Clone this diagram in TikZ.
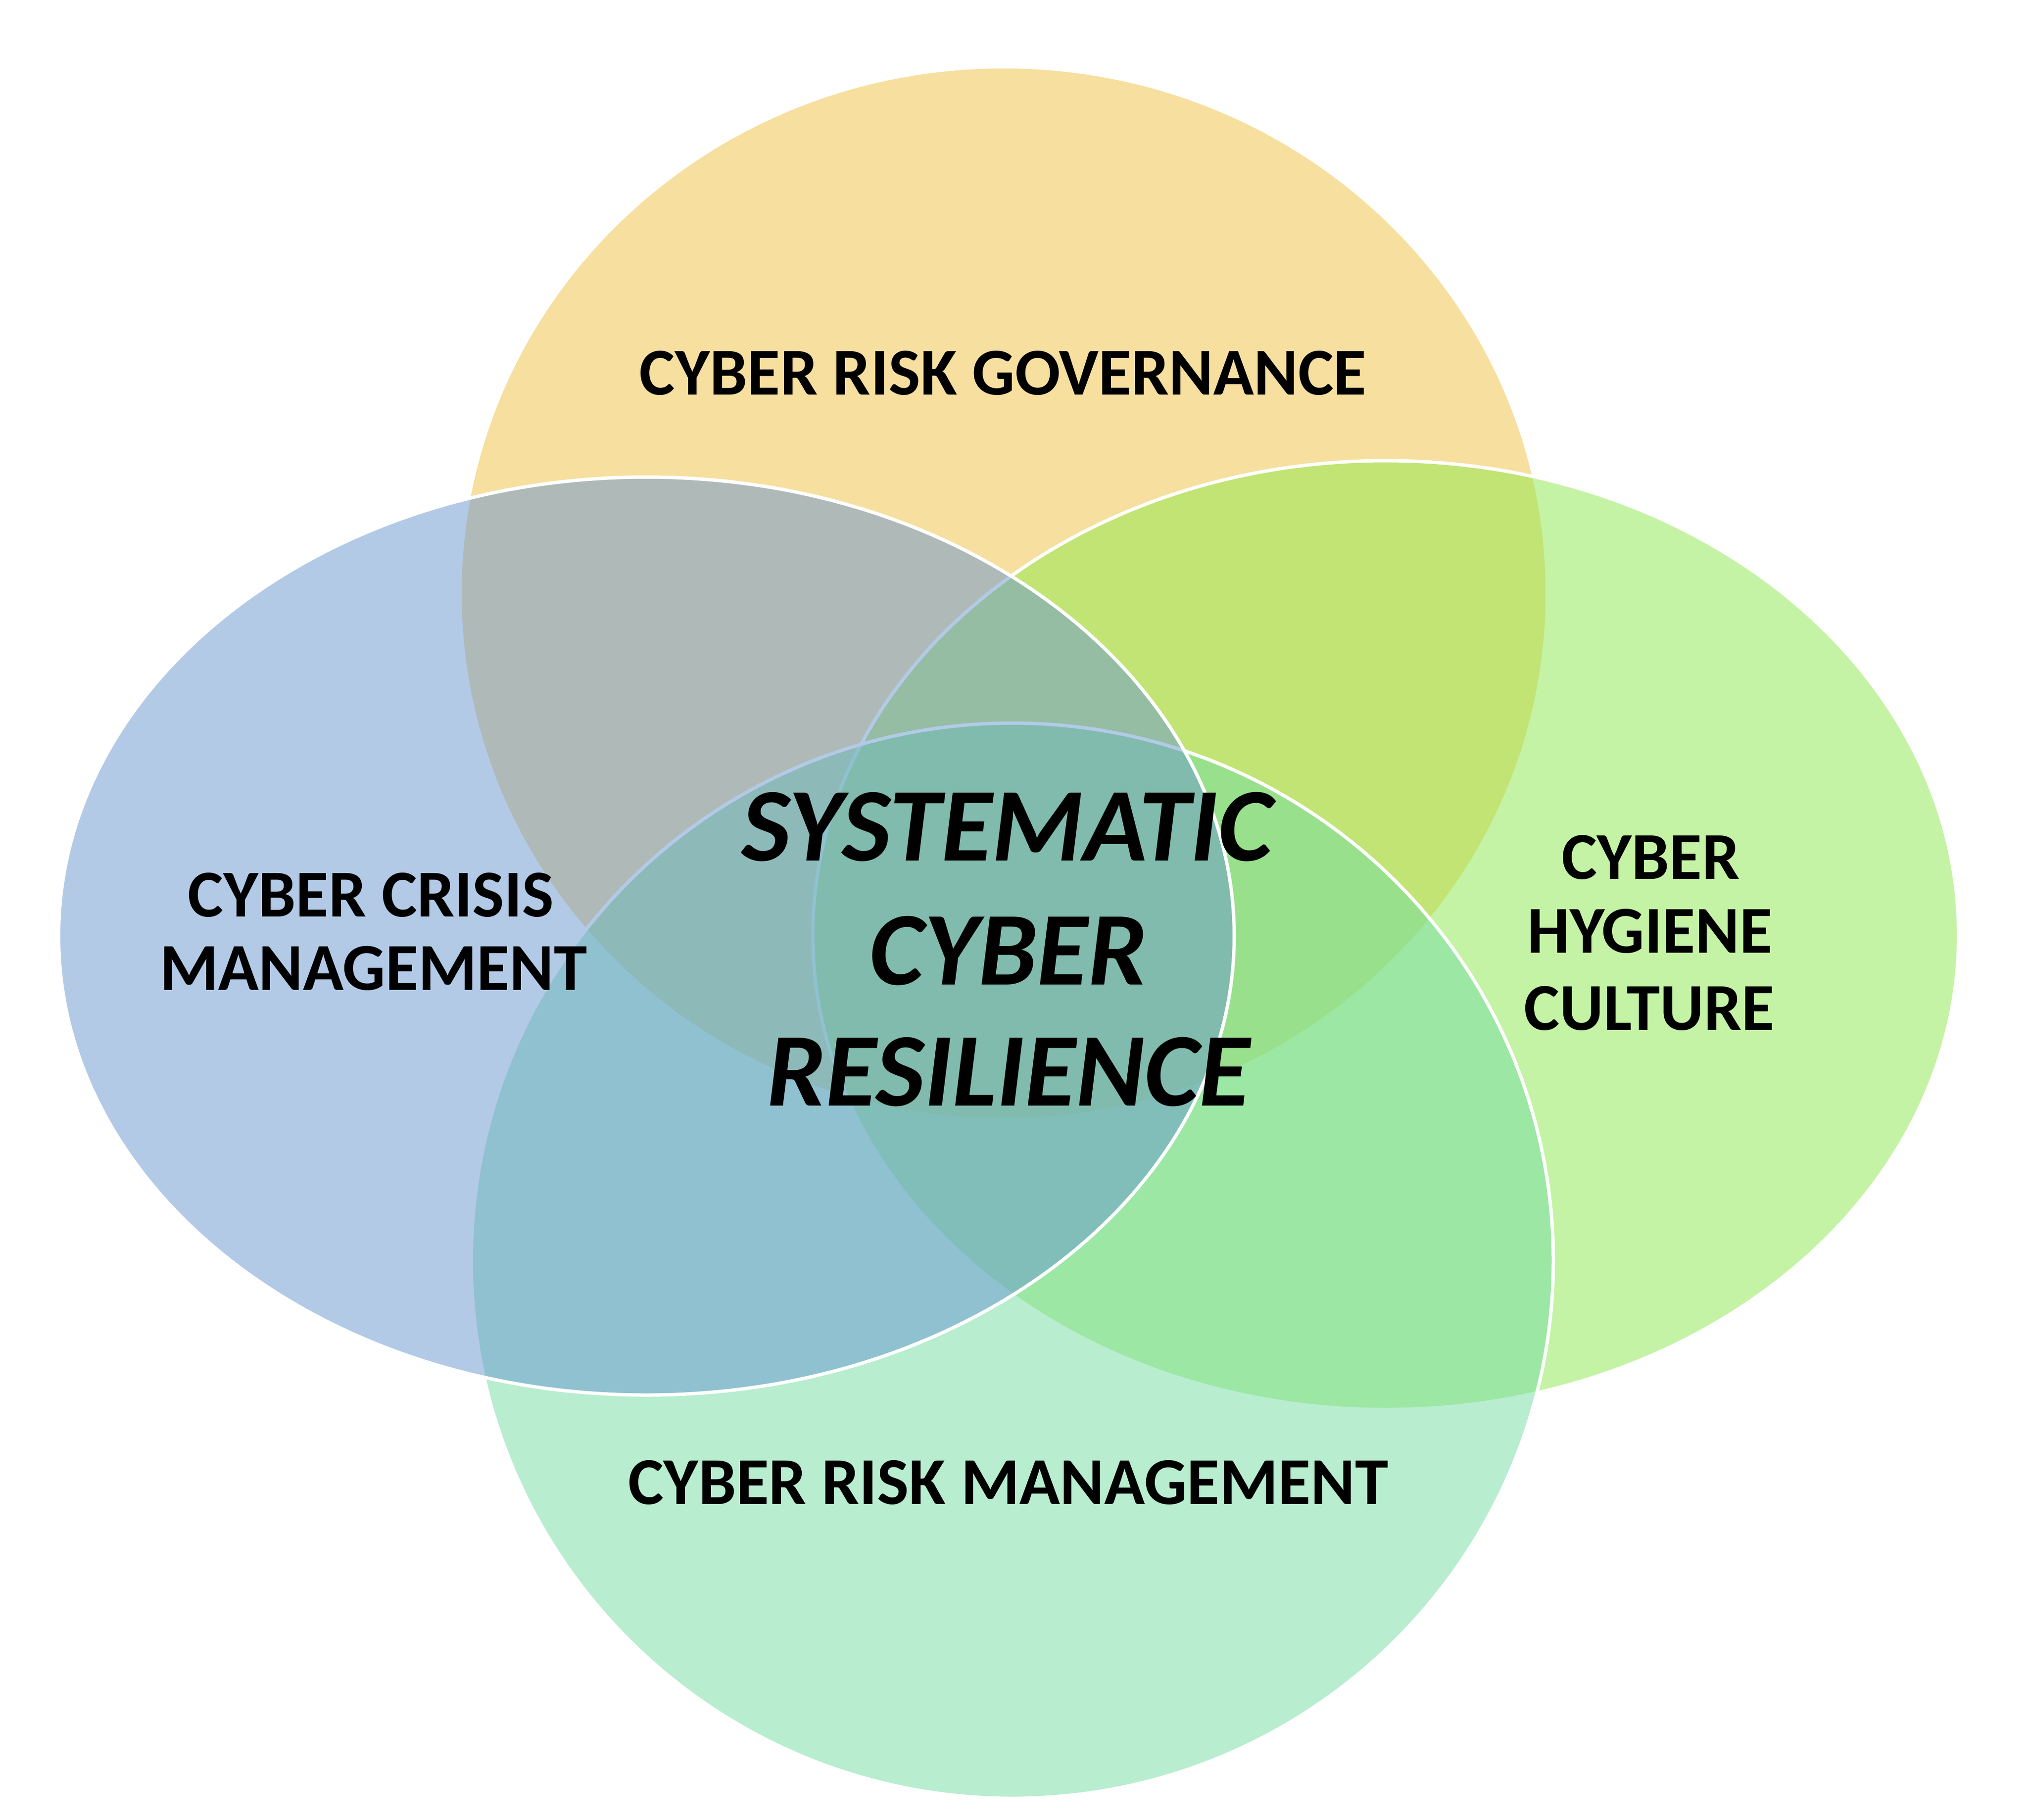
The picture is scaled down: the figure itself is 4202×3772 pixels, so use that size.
\documentclass[tikz,border=0pt]{standalone}
\usepackage{fontspec}
\setmainfont{Carlito}
\definecolor{cyel}{RGB}{241,193,65}
\definecolor{cgrn}{RGB}{141,233,77}
\definecolor{cmnt}{RGB}{115,221,163}
\definecolor{cblu}{RGB}{105,151,209}
\begin{document}
\begin{tikzpicture}[x=1pt,y=-1pt,
  blob/.style={fill opacity=0.5},
  ring/.style={draw=white, draw opacity=1, line width=7pt},
  lab/.style={anchor=base, inner sep=0pt, text=black, font=\bfseries\fontsize{139}{152}\selectfont},
  core/.style={anchor=base, inner sep=0pt, text=black, font=\bfseries\itshape\fontsize{217}{254}\selectfont}]
\useasboundingbox (0,0) rectangle (4202,3772);
\fill[white] (0,0) rectangle (4202,3772);
% ellipses
\fill[blob, fill=cyel] (2080.5,1230) ellipse [x radius=1123.5pt, y radius=1088pt];
\filldraw[blob, ring, fill=cgrn] (2872.5,1938.5) ellipse [x radius=1187.5pt, y radius=983.5pt];
\filldraw[blob, ring, fill=cmnt] (2098.5,2613.5) ellipse [x radius=1121.5pt, y radius=1114.5pt];
\filldraw[blob, ring, fill=cblu] (1340,1940.5) ellipse [x radius=1218.5pt, y radius=951.5pt];
% labels
\node[lab] (gov) at (2079,818) {CYBER RISK GOVERNANCE};
\node[lab] (cri1) at (769,1900) {CYBER CRISIS};
\node[lab] (cri2) at (774,2052) {MANAGEMENT};
\node[lab] (hyg1) at (3422,1822) {CYBER};
\node[lab] (hyg2) at (3420,1975) {HYGIENE};
\node[lab] (hyg3) at (3419,2135) {CULTURE};
\node[lab] (rm) at (2090,3118) {CYBER RISK MANAGEMENT};
\node[core] (sc1) at (2088,1784) {SYSTEMATIC};
\node[core] (sc2) at (2090,2041) {CYBER};
\node[core] (sc3) at (2090,2292) {RESILIENCE};
\end{tikzpicture}
\end{document}
